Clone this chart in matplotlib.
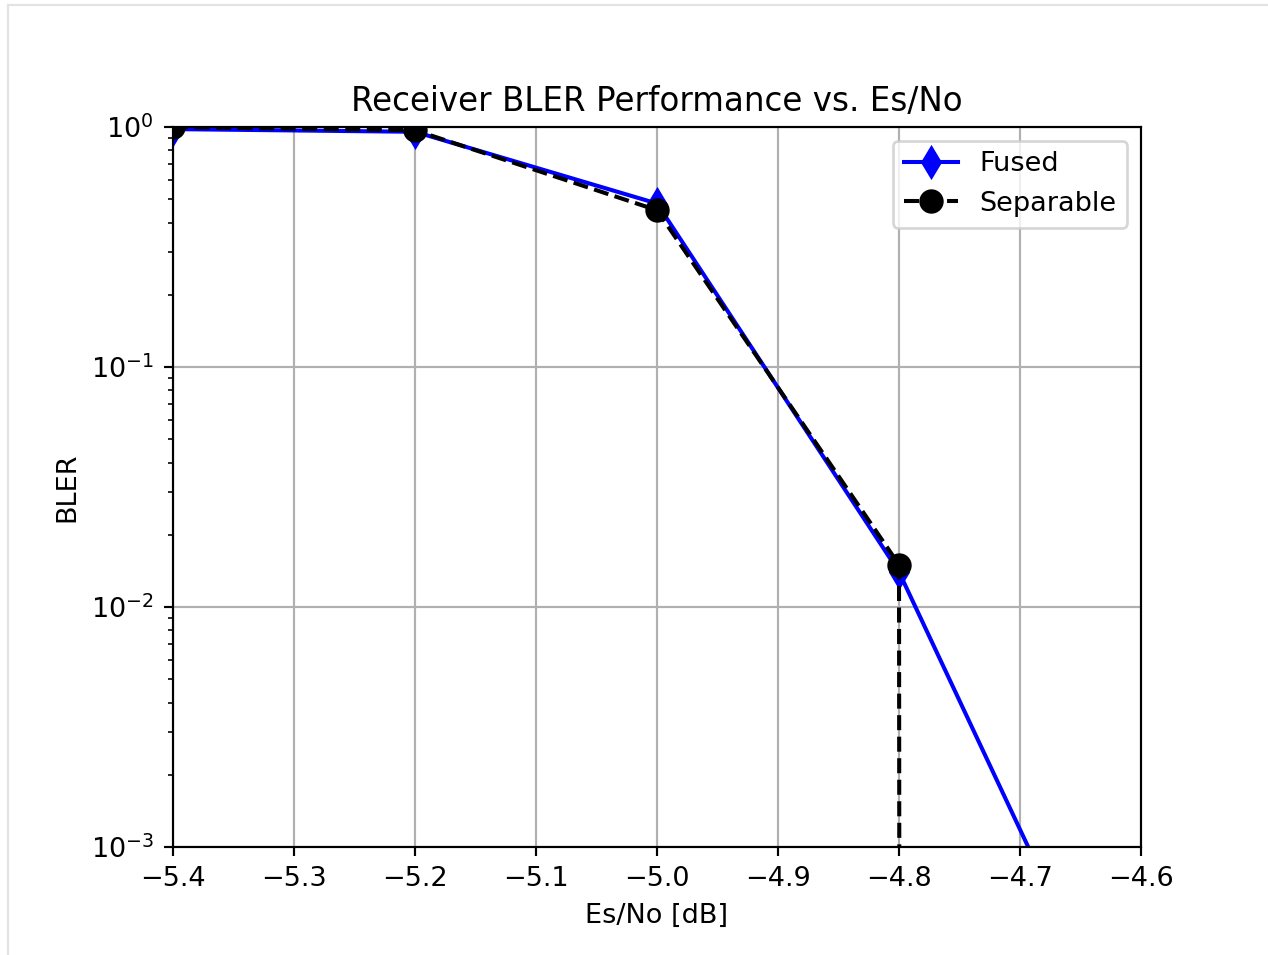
import numpy as np
import matplotlib
matplotlib.use("Agg")
import matplotlib.pyplot as plt
from matplotlib.lines import Line2D

# Es/No sweep points [dB]
esno_db = [-5.4, -5.2, -5.0, -4.8, -4.6]
# Block error rates per receiver
bler_fused = [0.98, 0.955, 0.48, 0.014, 1e-4]
bler_separable = [1.0, 0.97, 0.45, 0.015, 0.0]

W, H, DPI = 1268, 955, 195
fig = plt.figure(figsize=(W / DPI, H / DPI), dpi=DPI)

# thin frame along the top and left edges of the output cell
fig.add_artist(Line2D([8 / W, 1], [1 - 5 / H, 1 - 5 / H], color="#e3e3e3", lw=0.8))
fig.add_artist(Line2D([8 / W, 8 / W], [0, 1 - 5 / H], color="#e3e3e3", lw=0.8))

ax = fig.add_axes([173 / W, 1 - 847 / H, (1141 - 173) / W, (847 - 127) / H])
ax.semilogy(esno_db, bler_fused, "bd-", markersize=8, label="Fused")
ax.semilogy(esno_db, bler_separable, "ko--", markersize=8, label="Separable")
ax.set_xlim(-5.4, -4.6)
ax.set_ylim(1e-3, 1)
ax.grid(True, which="major")
ax.set_xlabel("Es/No [dB]")
ax.set_ylabel("BLER")
ax.set_title("Receiver BLER Performance vs. Es/No")
ax.legend(loc="upper right")

fig.savefig("out.png", dpi=DPI)
